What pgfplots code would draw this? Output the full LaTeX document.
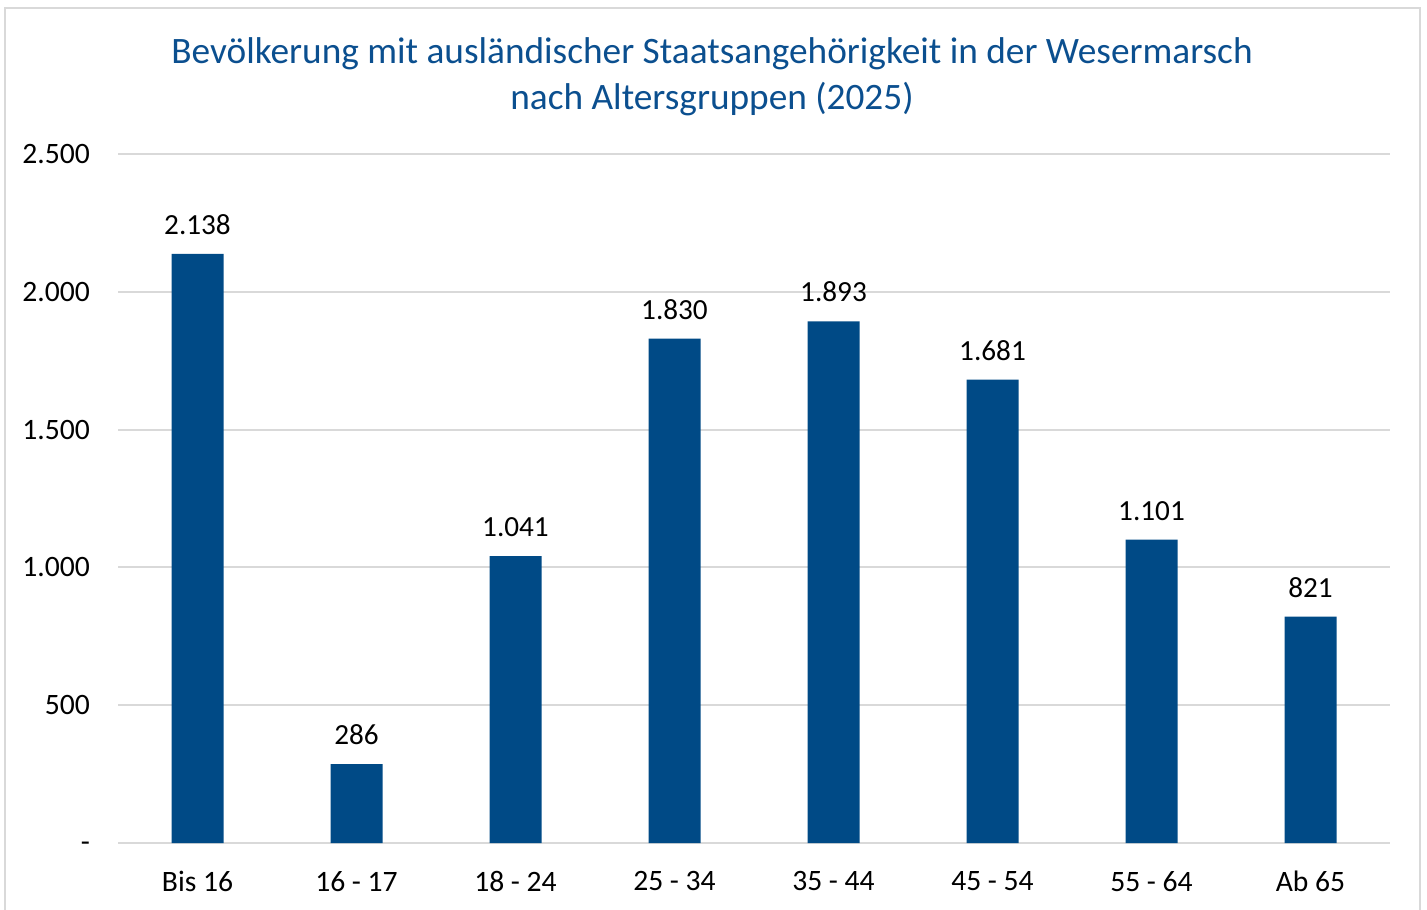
\documentclass[border=0pt]{standalone}
\usepackage{pgfplots}
\pgfplotsset{compat=1.18}
\usepackage{fontspec}
\setmainfont{Carlito}
\definecolor{barblue}{HTML}{004A86}
\definecolor{titleblue}{HTML}{0B4F8F}
\definecolor{gridgray}{HTML}{D9D9D9}
\begin{document}
\begin{tikzpicture}
\useasboundingbox (0pt,0pt) rectangle (713.5pt,454.5pt);
\draw[gridgray, line width=1.2pt] (2.5pt,-5pt) rectangle (710pt,450.5pt);
\node[titleblue, font=\fontsize{18.65}{23}\selectfont, align=center] at (356pt,416pt)
  {Bevölkerung mit ausländischer Staatsangehörigkeit in der Wesermarsch\\nach Altersgruppen (2025)};
\begin{axis}[
  at={(59pt,33pt)}, anchor=south west,
  width=636pt, height=344.5pt, scale only axis,
  xmin=-0.5, xmax=7.5, ymin=0, ymax=2500,
  axis line style={draw=none},
  major tick length=0pt,
  ytick={0,500,1000,1500,2000,2500},
  yticklabels={\raisebox{-4pt}[0pt][0pt]{-},500,1.000,1.500,2.000,2.500},
  xtick={0,1,2,3,4,5,6,7},
  xticklabels={Bis 16,16 - 17,18 - 24,25 - 34,35 - 44,45 - 54,55 - 64,Ab 65},
  ymajorgrids, grid style={gridgray, line width=1pt},
  tick label style={font=\fontsize{14.8}{17}\selectfont, black},
  yticklabel style={xshift=-10.5pt},
  xticklabel style={yshift=-10.5pt},
  /pgf/number format/.cd, 1000 sep={.}, assume math mode=true,
  /pgfplots/.cd,
  clip=false,
]
\addplot[ybar, bar width=26pt, bar shift=0pt, fill=barblue, draw=none,
  nodes near coords,
  every node near coord/.append style={font=\fontsize{14.6}{17}\selectfont, black, yshift=6pt}]
  coordinates {(0,2138) (1,286) (2,1041) (3,1830) (4,1893) (5,1681) (6,1101) (7,821)};
\end{axis}
\end{tikzpicture}
\end{document}
